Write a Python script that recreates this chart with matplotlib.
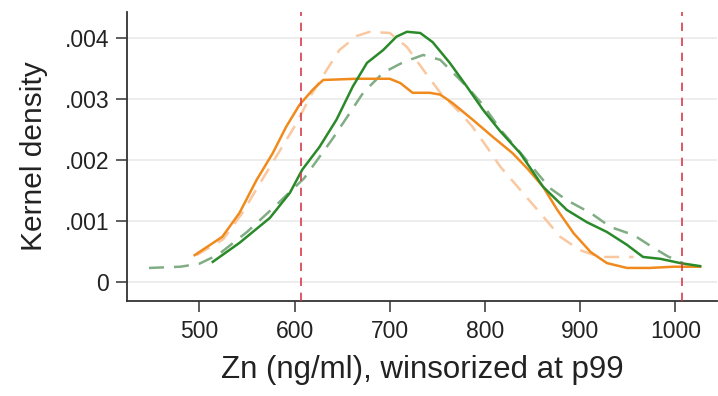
import matplotlib
matplotlib.use("Agg")
import matplotlib.pyplot as plt

plt.rcParams['font.family'] = ['Liberation Sans', 'DejaVu Sans']

# Solid green
green_x = [514, 542, 574, 595, 608, 626, 644, 661, 676, 693, 707, 718, 732, 745, 763, 781, 798, 816, 837, 861, 886, 907, 928, 949, 966, 984, 1005, 1026]
green_y = [0.00033, 0.00064, 0.00105, 0.00146, 0.00184, 0.00221, 0.00266, 0.0032, 0.00359, 0.0038, 0.00402, 0.0041, 0.00408, 0.00393, 0.00359, 0.0032, 0.00282, 0.00247, 0.00211, 0.00156, 0.00118, 0.00098, 0.00082, 0.00061, 0.00041, 0.00038, 0.00031, 0.00026]

# Solid orange
orange_x = [495, 524, 542, 560, 577, 591, 605, 619, 630, 665, 700, 711, 724, 742, 753, 766, 787, 808, 829, 845, 861, 876, 893, 911, 928, 949, 973, 998, 1026]
orange_y = [0.00044, 0.00074, 0.00113, 0.00167, 0.00211, 0.00254, 0.0029, 0.00315, 0.00331, 0.00333, 0.00333, 0.00326, 0.0031, 0.0031, 0.00307, 0.00293, 0.00266, 0.00238, 0.00211, 0.00185, 0.00156, 0.00118, 0.0008, 0.00049, 0.00031, 0.00023, 0.00023, 0.00025, 0.00025]

# Dashed green
dgreen_x = [447, 480, 500, 520, 550, 580, 610, 640, 655, 672, 693, 714, 735, 753, 781, 798, 816, 837, 868, 886, 911, 932, 956, 977, 992, 1008]
dgreen_y = [0.00023, 0.00025, 0.0003, 0.00045, 0.00082, 0.00125, 0.0017, 0.00235, 0.0027, 0.0031, 0.00343, 0.0036, 0.00372, 0.00364, 0.0032, 0.0029, 0.0025, 0.00212, 0.00154, 0.00134, 0.00113, 0.0009, 0.00077, 0.00056, 0.00042, 0.00031]

# Dashed orange
dorange_x = [497, 525, 545, 566, 584, 602, 616, 629, 647, 665, 679, 700, 718, 735, 753, 774, 787, 802, 816, 837, 858, 879, 900, 921, 949, 956]
dorange_y = [0.00044, 0.0007, 0.00113, 0.00168, 0.00214, 0.0026, 0.00303, 0.00336, 0.0038, 0.00403, 0.0041, 0.00408, 0.00385, 0.00348, 0.0031, 0.00277, 0.00254, 0.00221, 0.00189, 0.00151, 0.00113, 0.00074, 0.00052, 0.00041, 0.00041, 0.00041]

vlines = [607, 1007]
xticks = [500, 600, 700, 800, 900, 1000]
yticks = [0, 0.001, 0.002, 0.003, 0.004]
ytick_labels = ["0", ".001", ".002", ".003", ".004"]

fig = plt.figure(figsize=(7.18, 3.96), dpi=100)
ax = fig.add_axes([0.177, 0.240, 0.822, 0.730])

for y in yticks:
    ax.axhline(y, color='#ececec', lw=1.3, zorder=0)

ax.plot(dgreen_x, dgreen_y, color='#80ad84', lw=1.8, ls=(0, (6, 4)), zorder=2)
ax.plot(dorange_x, dorange_y, color='#f9c8a0', lw=1.8, ls=(0, (6, 4)), zorder=2)
ax.plot(orange_x, orange_y, color='#f08a1d', lw=1.8, zorder=3)
ax.plot(green_x, green_y, color='#2a8a2a', lw=1.8, zorder=4)

for v in vlines:
    ax.axvline(v, color='#d83c4c', lw=1.2, ls=(0, (5, 4)), zorder=5)

ax.set_xlim(424, 1044)
ax.set_ylim(-0.000311, 0.004426)
ax.set_xticks(xticks)
ax.set_yticks(yticks)
ax.set_yticklabels(ytick_labels)
ax.tick_params(axis='both', labelsize=16.5, length=8, width=1.1, color='#333333', labelcolor='#222222')
ax.tick_params(axis='x', pad=6)
ax.tick_params(axis='y', pad=5)
for s in ['top', 'right']:
    ax.spines[s].set_visible(False)
for s in ['left', 'bottom']:
    ax.spines[s].set_color('#333333')
    ax.spines[s].set_linewidth(1.3)

ax.set_xlabel("Zn (ng/ml), winsorized at p99", fontsize=22.5, color='#222222', labelpad=8)
ax.set_ylabel("Kernel density", fontsize=21.5, color='#222222', labelpad=12)

fig.savefig("out.png", dpi=100)
